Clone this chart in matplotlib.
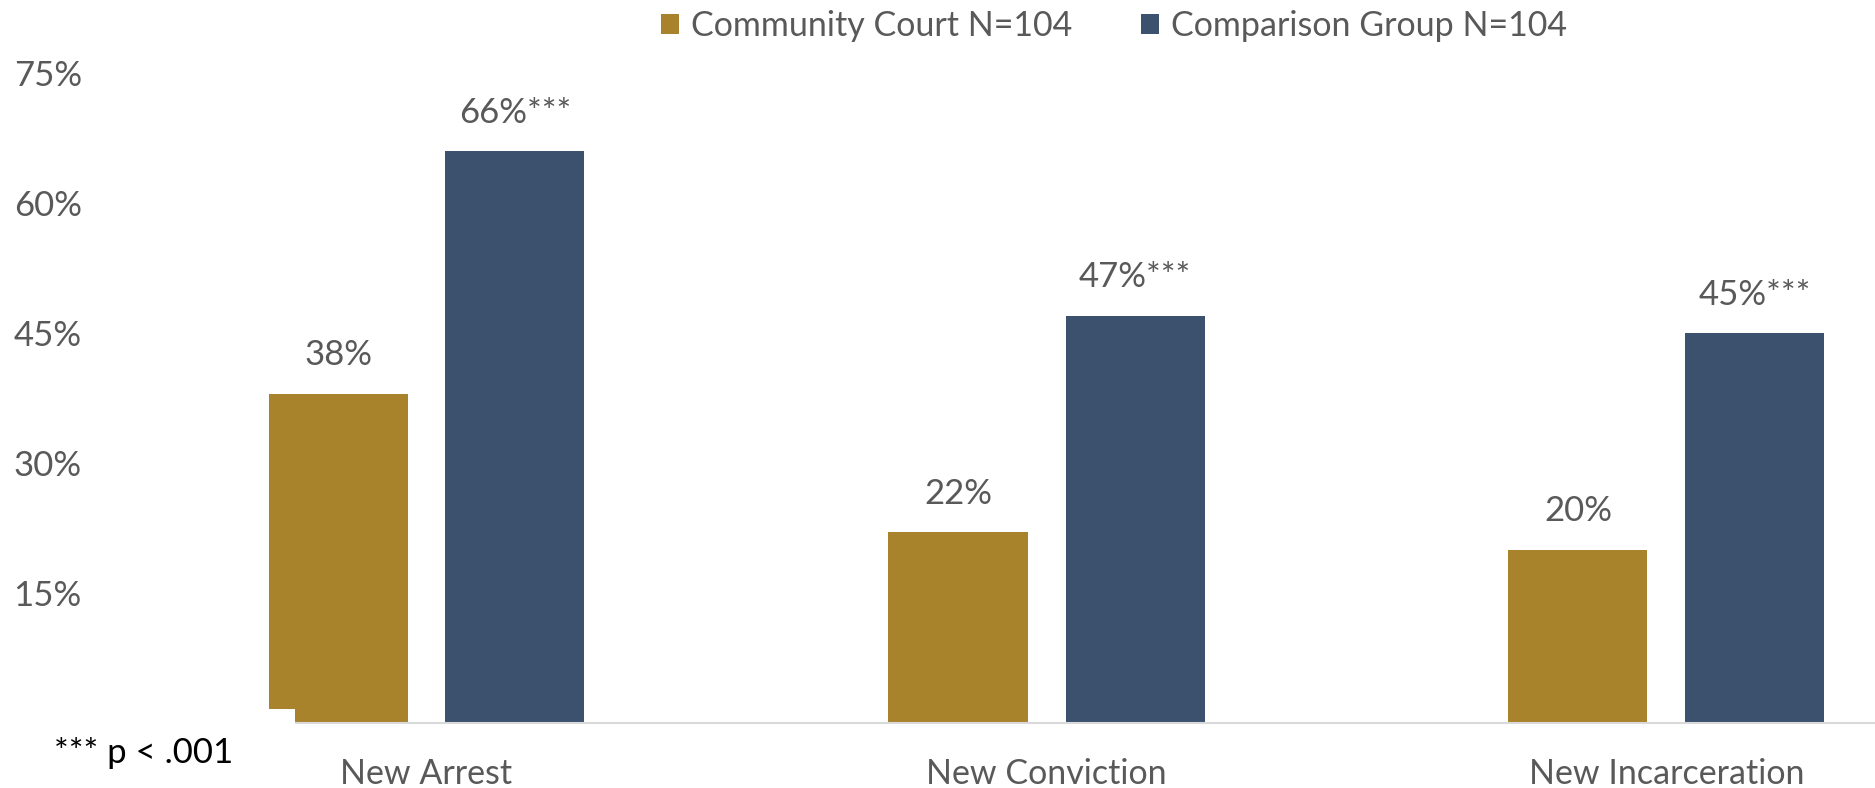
import matplotlib
matplotlib.use("Agg")
import matplotlib.pyplot as plt
from matplotlib.patches import Rectangle
import numpy as np

categories = ["New Arrest", "New Conviction", "New Incarceration"]
series_names = ["Community Court N=104", "Comparison Group N=104"]
community = [38, 22, 20]
comparison = [66, 47, 45]
community_labels = ["38%", "22%", "20%"]
comparison_labels = ["66%***", "47%***", "45%***"]
yticks = [15, 30, 45, 60, 75]
ytick_labels = ["15%", "30%", "45%", "60%", "75%"]
footnote = "*** p < .001"

GOLD = "#A8832C"
BLUE = "#3B516E"
GRAY = "#595959"
FONT = ["Lato", "DejaVu Sans"]

W, H = 1875, 788
fig = plt.figure(figsize=(W / 100, H / 100), dpi=100)
plt.rcParams['font.family'] = FONT

# axes geometry (pixels)
left_px, right_px = 116.5, 1875
base_px, top_px = 723, 723 - 5 * 130.0
ax = fig.add_axes([left_px / W, 1 - base_px / H, (right_px - left_px) / W, (base_px - top_px) / H])

cat_w = 620.0
xmax = (right_px - 426.5) / cat_w
ax.set_xlim(-0.5, xmax)
ax.set_ylim(0, 75)

x = np.arange(len(categories))
off = 88.5 / cat_w
bw = 139 / cat_w
b1 = ax.bar(x - off, community, width=bw, color=GOLD, label=series_names[0], zorder=2)
b2 = ax.bar(x + off, comparison, width=bw, color=BLUE, label=series_names[1], zorder=2)

for rect, lab in zip(b1, community_labels):
    ax.annotate(lab, (rect.get_x() + rect.get_width() / 2, rect.get_height()),
                xytext=(0, 16), textcoords="offset points", ha="center", va="bottom",
                fontsize=25, color=GRAY)
for rect, lab in zip(b2, comparison_labels):
    ax.annotate(lab, (rect.get_x() + rect.get_width() / 2, rect.get_height()),
                xytext=(0, 16), textcoords="offset points", ha="center", va="bottom",
                fontsize=25, color=GRAY)

for s in ["top", "right", "left"]:
    ax.spines[s].set_visible(False)
ax.spines["bottom"].set_color("#D9D9D9")
ax.spines["bottom"].set_linewidth(1.5)
ax.spines["bottom"].set_zorder(3)

ax.set_yticks(yticks)
ax.set_yticklabels(ytick_labels)
ax.set_xticks(x)
ax.set_xticklabels(categories)
ax.tick_params(axis="y", length=0, pad=25, labelsize=25, labelcolor=GRAY)
ax.tick_params(axis="x", length=0, pad=25, labelsize=24.5, labelcolor=GRAY)

leg = fig.legend(handles=[b1, b2], labels=series_names, loc="center",
                 bbox_to_anchor=(1114 / W, 1 - 26 / H), ncol=2, frameon=False,
                 fontsize=24.5, handlelength=0.55, handleheight=0.55, handletextpad=0.35,
                 columnspacing=2.0, labelcolor=GRAY)

# white footnote box overlapping the bottom-left of the plot
fig.patches.append(Rectangle((0, 0), 295 / W, (H - 709) / H, transform=fig.transFigure,
                             facecolor="white", edgecolor="none", zorder=10))
fig.text(54 / W, 1 - 753 / H, footnote, ha="left", va="center", fontsize=25,
         color="black", zorder=11)

fig.savefig("out.png", dpi=100, facecolor="white")
